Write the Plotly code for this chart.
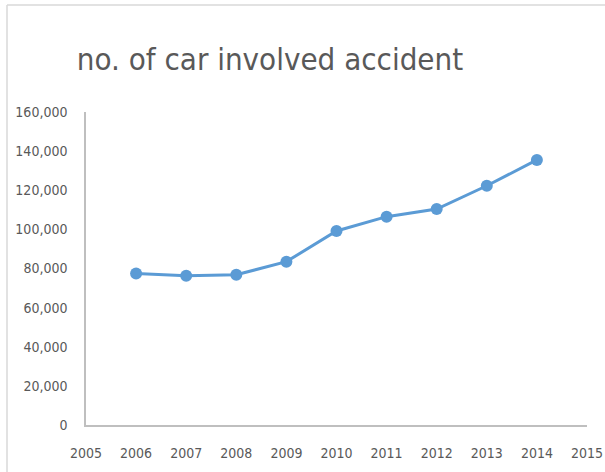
import plotly.graph_objects as go

years = [2006, 2007, 2008, 2009, 2010, 2011, 2012, 2013, 2014]
accidents = [77500, 76300, 76800, 83500, 99200, 106500, 110400, 122300, 135500]
x_ticks = list(range(2005, 2016))
y_ticks = list(range(0, 160001, 20000))
y_labels = [f"{v:,}" for v in y_ticks]

W, H = 605, 472
L, R, T, B = 86, 18, 112, 47
pw, ph = W - L - R, H - T - B

def px_x(p):
    return (p - L) / pw

def px_y(p):
    return 1 - (p - T) / ph

FONT = "DejaVu Sans Condensed, Liberation Sans Narrow, Roboto, sans-serif"
BLUE = "#5B9BD5"
TXT = "#595959"
AX = "#BFBFBF"

fig = go.Figure(go.Scatter(
    x=years, y=accidents, mode="lines+markers",
    line=dict(color=BLUE, width=3),
    marker=dict(color=BLUE, size=12),
    showlegend=False, hoverinfo="x+y",
))

fig.update_layout(
    width=W, height=H,
    margin=dict(l=L, r=R, t=T, b=B, autoexpand=False),
    paper_bgcolor="white", plot_bgcolor="white",
    title=dict(text="no. of car involved accident", x=270 / W, xanchor="center",
               xref="container",
               y=1 - 59 / H, yanchor="middle",
               font=dict(family=FONT, size=31, color=TXT)),
    xaxis=dict(range=[2005, 2015], tickmode="array", tickvals=x_ticks,
               showgrid=False, zeroline=False, showline=True, automargin=False,
               linecolor=AX, linewidth=1.5, ticks="",
               tickfont=dict(family=FONT, size=14, color=TXT), ticklabelstandoff=14),
    yaxis=dict(range=[0, 160000], tickmode="array", tickvals=y_ticks, ticktext=y_labels,
               showgrid=False, zeroline=False, showline=True, automargin=False,
               linecolor=AX, linewidth=1.5, ticks="",
               tickfont=dict(family=FONT, size=14, color=TXT), ticklabelstandoff=14),
    shapes=[
        dict(type="line", xref="paper", yref="paper",
             x0=px_x(7), x1=px_x(W + 5), y0=px_y(5), y1=px_y(5),
             line=dict(color="#D9D9D9", width=1.5)),
        dict(type="line", xref="paper", yref="paper",
             x0=px_x(7), x1=px_x(7), y0=px_y(5), y1=px_y(H + 5),
             line=dict(color="#D9D9D9", width=1.5)),
    ],
)

fig.write_html("out.html")
